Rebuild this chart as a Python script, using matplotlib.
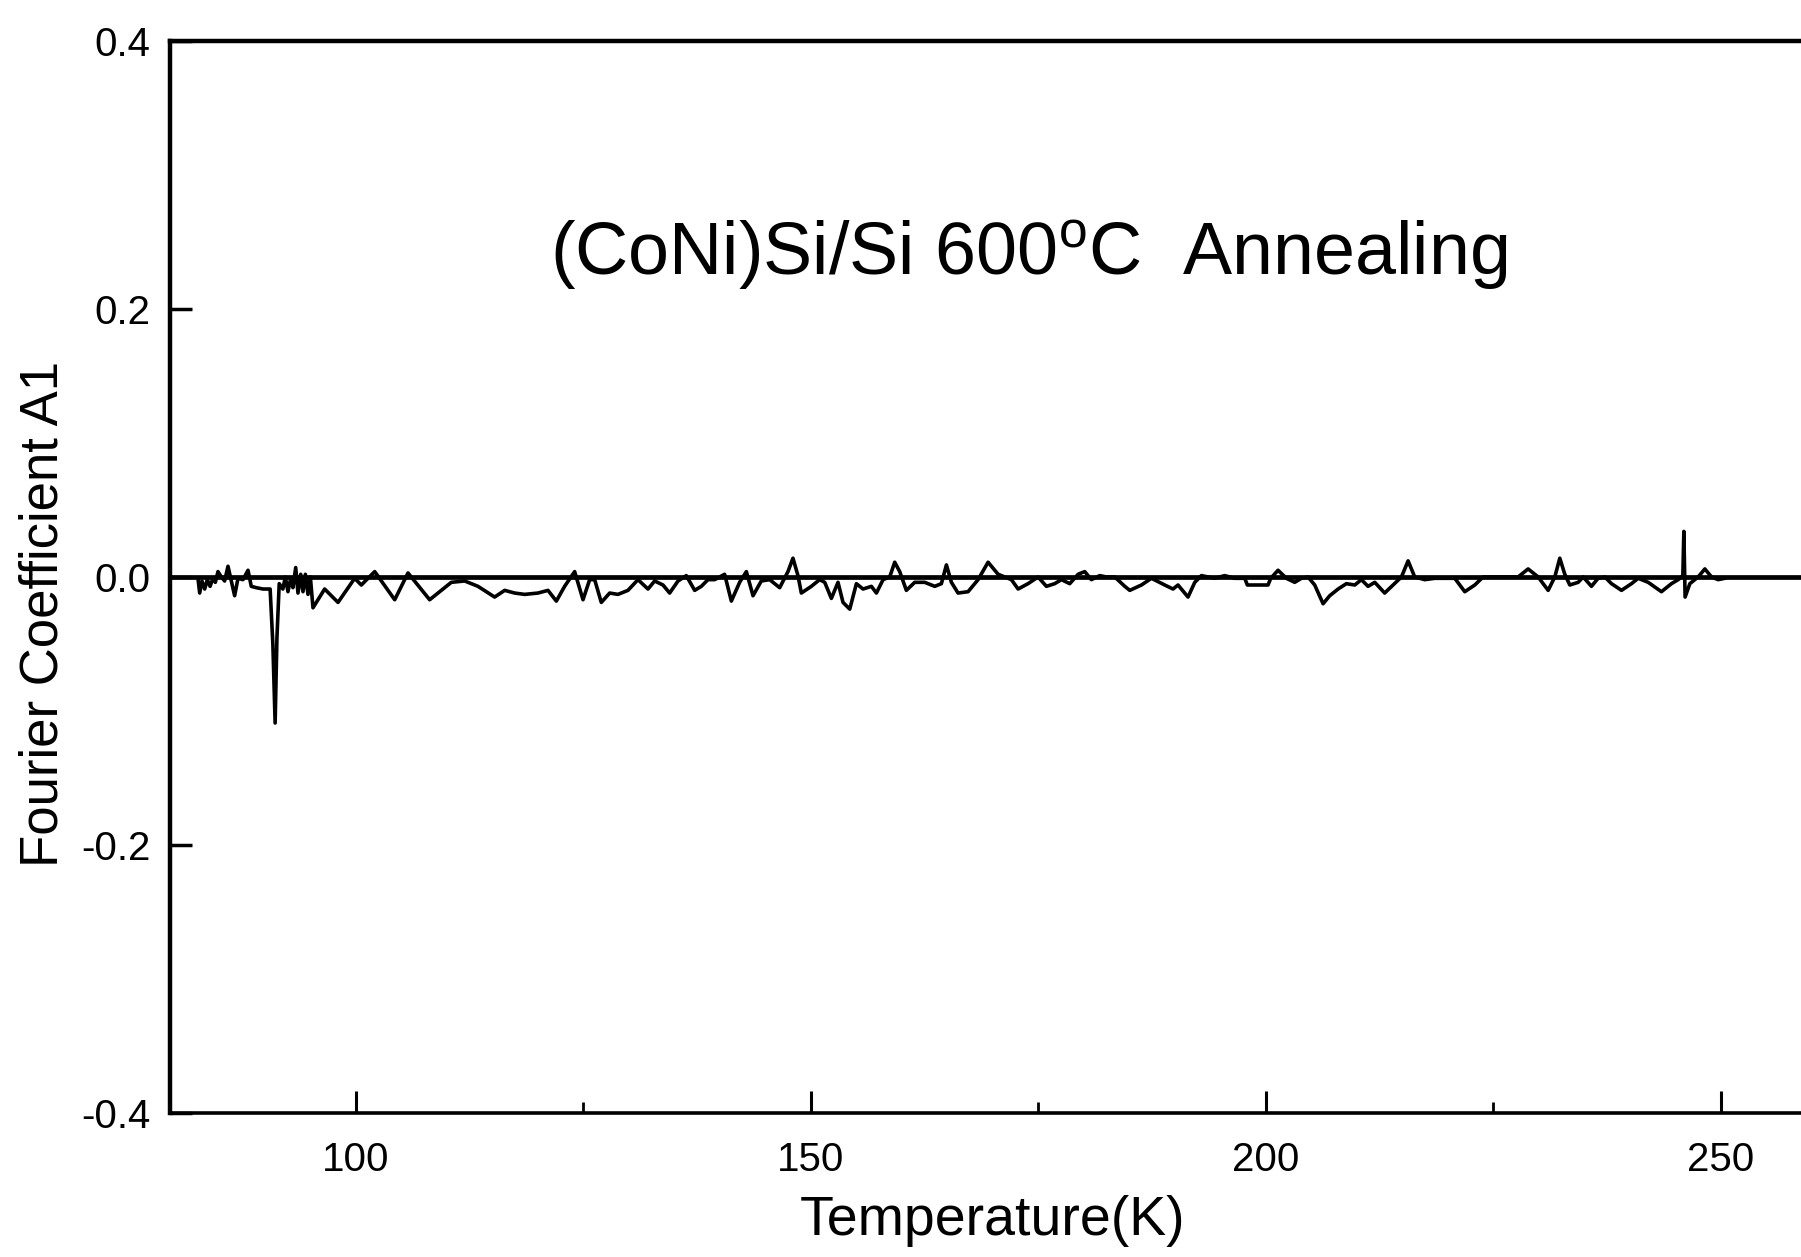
import matplotlib
matplotlib.use("Agg")
import matplotlib.pyplot as plt
from matplotlib import font_manager
from matplotlib.ticker import FixedLocator

# Temperature (K) and Fourier coefficient A1 of the (CoNi)Si/Si sample
temperature = [
    82.67, 82.86, 83.11, 83.41, 83.70, 84.00, 84.32, 84.58, 84.87, 85.24,
    85.60, 85.97, 86.34, 86.70, 87.07, 87.62, 88.17, 88.53, 89.08, 89.82,
    90.44, 90.60, 90.90, 91.15, 91.35, 91.60, 92.00, 92.27, 92.56, 92.86,
    93.11, 93.41, 93.66, 93.96, 94.21, 94.47, 94.76, 95.02, 95.31, 96.59,
    98.06, 99.89, 100.62, 102.09, 104.29, 105.75, 108.13, 110.51, 111.98, 113.44,
    115.27, 116.37, 117.47, 118.57, 120.03, 121.13, 122.05, 122.96, 124.06, 124.98,
    125.71, 126.26, 126.99, 127.91, 128.82, 129.92, 131.02, 132.12, 132.85, 133.77,
    134.50, 135.42, 136.33, 137.25, 137.98, 138.71, 139.45, 140.54, 141.28, 142.19,
    142.93, 143.66, 144.57, 145.49, 146.59, 147.50, 148.05, 148.60, 148.97, 150.07,
    150.98, 151.54, 152.27, 153.00, 153.55, 154.29, 155.02, 155.75, 156.67, 157.22,
    157.95, 158.68, 159.23, 159.78, 160.51, 161.43, 162.53, 163.63, 164.36, 164.91,
    165.46, 166.19, 167.29, 168.39, 169.49, 170.59, 172.05, 172.79, 173.88, 174.98,
    175.90, 176.81, 177.55, 178.46, 179.38, 180.11, 180.84, 181.76, 182.49, 183.41,
    184.51, 185.06, 186.34, 187.44, 188.90, 189.81, 190.36, 191.46, 192.20, 192.93,
    194.39, 195.49, 196.59, 197.69, 197.98, 200.25, 200.55, 201.35, 202.27, 203.18,
    203.92, 204.65, 205.38, 206.30, 207.03, 207.95, 208.86, 209.78, 210.51, 211.24,
    211.98, 213.07, 213.99, 214.91, 215.64, 216.37, 217.47, 218.57, 220.77, 221.87,
    222.97, 223.88, 225.50, 227.73, 228.83, 229.93, 231.03, 231.76, 232.31, 232.86,
    233.41, 234.33, 234.88, 235.79, 236.52, 237.26, 237.99, 239.09, 240.19, 240.92,
    242.02, 243.48, 244.58, 245.32, 245.83, 245.94, 246.08, 246.60, 247.51, 248.25,
    248.98, 249.71, 250.44,
]
coefficient_a1 = [
    -0.001, -0.012, -0.003, -0.009, -0.002, -0.007, -0.001, -0.004, 0.004, 0.000,
    -0.003, 0.008, -0.003, -0.014, -0.001, -0.002, 0.005, -0.007, -0.008, -0.009,
    -0.009, -0.009, -0.050, -0.109, -0.045, -0.005, -0.009, 0.000, -0.011, -0.001,
    -0.008, 0.007, -0.012, 0.002, -0.011, 0.002, -0.013, 0.000, -0.023, -0.009,
    -0.019, -0.001, -0.006, 0.004, -0.017, 0.003, -0.017, -0.004, -0.003, -0.007,
    -0.015, -0.010, -0.012, -0.013, -0.012, -0.010, -0.018, -0.007, 0.004, -0.017,
    -0.002, -0.002, -0.019, -0.012, -0.013, -0.010, -0.002, -0.009, -0.003, -0.006,
    -0.012, -0.003, 0.001, -0.010, -0.007, -0.002, -0.002, 0.002, -0.018, -0.004,
    0.004, -0.014, -0.003, -0.002, -0.008, 0.004, 0.014, 0.001, -0.012, -0.007,
    -0.002, -0.004, -0.016, -0.004, -0.019, -0.024, -0.005, -0.009, -0.007, -0.012,
    -0.002, 0.000, 0.011, 0.004, -0.010, -0.004, -0.004, -0.007, -0.005, 0.009,
    -0.004, -0.012, -0.011, -0.002, 0.011, 0.002, -0.002, -0.009, -0.005, 0.000,
    -0.007, -0.005, -0.002, -0.005, 0.002, 0.004, -0.002, 0.001, 0.000, 0.000,
    -0.007, -0.010, -0.006, -0.001, -0.006, -0.009, -0.006, -0.015, -0.004, 0.001,
    -0.001, 0.001, -0.001, -0.001, -0.006, -0.006, -0.001, 0.005, -0.001, -0.004,
    -0.001, 0.000, -0.006, -0.020, -0.014, -0.009, -0.005, -0.006, -0.002, -0.007,
    -0.004, -0.012, -0.006, 0.000, 0.012, 0.000, -0.002, -0.001, -0.001, -0.011,
    -0.006, 0.000, 0.000, 0.000, 0.006, 0.000, -0.010, 0.000, 0.014, 0.002,
    -0.006, -0.004, 0.000, -0.007, -0.001, 0.000, -0.005, -0.010, -0.005, -0.001,
    -0.004, -0.011, -0.005, -0.002, 0.001, 0.034, -0.015, -0.005, 0.000, 0.006,
    0.000, -0.002, -0.001,
]

x_major = [100, 150, 200, 250]
x_minor = [125, 175, 225]
x_labels = ["100", "150", "200", "250"]
y_major = [-0.4, -0.2, 0.0, 0.2, 0.4]
y_labels = ["-0.4", "-0.2", "0.0", "0.2", "0.4"]

title_text = "(CoNi)Si/Si 600$^{\\mathrm{o}}$C  Annealing"
xlabel_text = "Temperature(K)"
ylabel_text = "Fourier Coefficient A1"

available = {f.name for f in font_manager.fontManager.ttflist}
narrow = "Liberation Sans Narrow" if "Liberation Sans Narrow" in available else "Liberation Sans"

plt.rcParams["font.family"] = ["Liberation Sans", "DejaVu Sans"]
plt.rcParams["mathtext.fontset"] = "custom"
plt.rcParams["mathtext.rm"] = "Liberation Sans"
plt.rcParams["mathtext.it"] = "Liberation Sans"

fig = plt.figure(figsize=(18.01, 12.57), dpi=100)
ax = fig.add_axes([0.0944, 0.1146, 0.9217, 0.8528])

ax.axhline(0.0, color="black", lw=3.4, zorder=2)
ax.plot(temperature, coefficient_a1, color="black", lw=2.6, zorder=3)

ax.set_xlim(79.6, 262.0)
ax.set_ylim(-0.4, 0.4)

for side in ("left", "top"):
    ax.spines[side].set_linewidth(3.2)
ax.spines["bottom"].set_linewidth(2.6)
ax.spines["right"].set_visible(False)

ax.xaxis.set_major_locator(FixedLocator(x_major))
ax.xaxis.set_minor_locator(FixedLocator(x_minor))
ax.set_xticklabels(x_labels, fontsize=29, family=narrow)
ax.set_yticks(y_major)
ax.set_yticklabels(y_labels, fontsize=29)

ax.tick_params(axis="x", which="major", direction="in", length=16, width=2.2, pad=20,
               top=False)
ax.tick_params(axis="x", which="minor", direction="in", length=8, width=2.0, top=False)
ax.tick_params(axis="y", which="major", direction="in", length=16, width=2.5, pad=14,
               right=False)

fig.text(1029 / 1801, 0.7975, title_text, fontsize=53, ha="center", va="center")
fig.text(993 / 1801, 1 - 1221 / 1257, xlabel_text, fontsize=40, ha="center", va="center")
fig.text(44 / 1801, 1 - 614 / 1257, ylabel_text, fontsize=38, rotation=90,
         ha="center", va="center")

fig.savefig("out.png", dpi=100, facecolor="white")
